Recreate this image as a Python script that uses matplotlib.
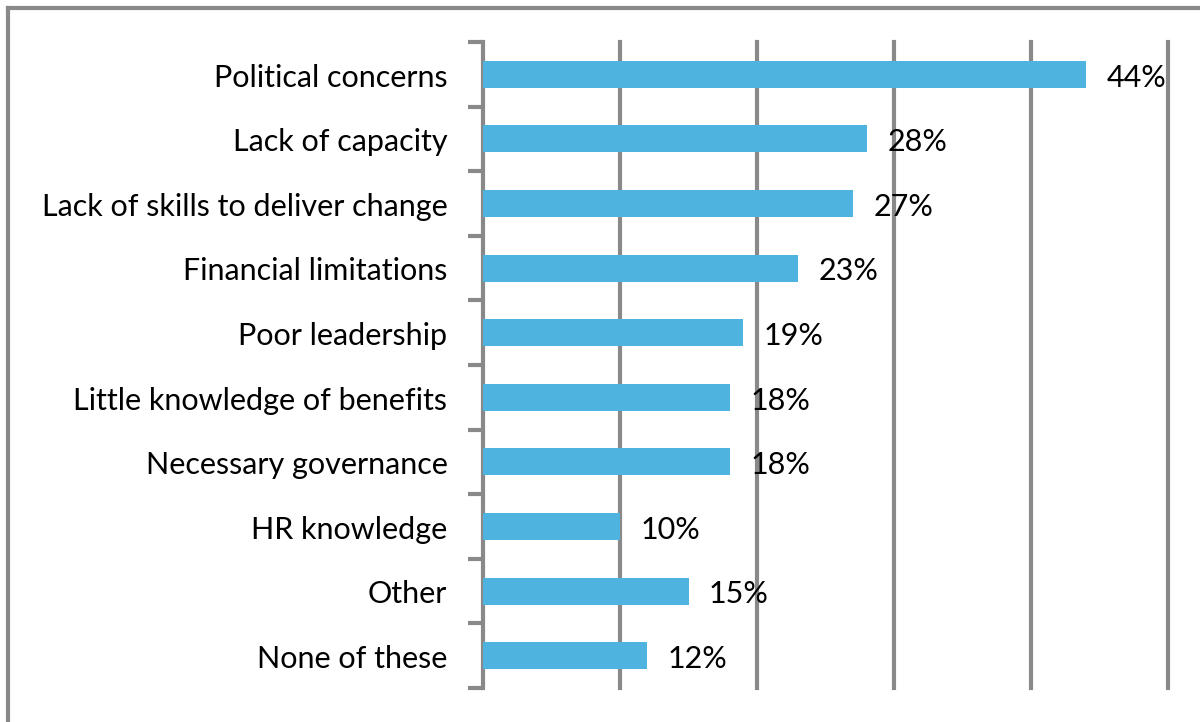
import matplotlib
matplotlib.use('Agg')
import matplotlib.pyplot as plt
from matplotlib.lines import Line2D

# ---- data ----
categories = ['Political concerns', 'Lack of capacity', 'Lack of skills to deliver change',
              'Financial limitations', 'Poor leadership', 'Little knowledge of benefits',
              'Necessary governance', 'HR knowledge', 'Other', 'None of these']
values = [44, 28, 27, 23, 19, 18, 18, 10, 15, 12]
value_labels = ['44%', '28%', '27%', '23%', '19%', '18%', '18%', '10%', '15%', '12%']

grey = '#898989'
blue = '#4EB3DE'

plt.rcParams['font.family'] = ['Lato', 'DejaVu Sans']

fig = plt.figure(figsize=(12, 7.22), dpi=100)
ax = fig.add_axes([483/1200, 1 - 688/722, (1168 - 483)/1200, (688 - 42)/722])

n = len(categories)
pos = list(range(n))
ax.barh(pos, values, height=0.42, color=blue, zorder=3)
ax.set_ylim(n - 0.5, -0.5)
ax.set_xlim(0, 50)

# vertical gridlines
for x in [10, 20, 30, 40, 50]:
    ax.axvline(x, color=grey, lw=3, zorder=1, clip_on=False)

# value labels
for p, v, lab in zip(pos, values, value_labels):
    ax.text(v + 1.5, p + 0.05, lab, va='center', ha='left', fontsize=22, color='black', zorder=4)

# category labels
for p, c in zip(pos, categories):
    ax.text(-2.6, p + 0.05, c, va='center', ha='right', fontsize=22, color='black')

for s in ['top', 'right', 'bottom']:
    ax.spines[s].set_visible(False)
ax.spines['left'].set_color(grey)
ax.spines['left'].set_linewidth(3)
ax.set_xticks([])
ax.set_yticks([i - 0.5 for i in range(n + 1)])
ax.set_yticklabels([])
ax.tick_params(axis='y', length=11, width=3, color=grey)

# outer frame (left and top edges)
fig.add_artist(Line2D([8/1200, 8/1200], [0, 1 - 8/722], color=grey, lw=3, transform=fig.transFigure))
fig.add_artist(Line2D([8/1200, 1], [1 - 8/722, 1 - 8/722], color=grey, lw=3, transform=fig.transFigure))

fig.savefig('out.png', dpi=100)
